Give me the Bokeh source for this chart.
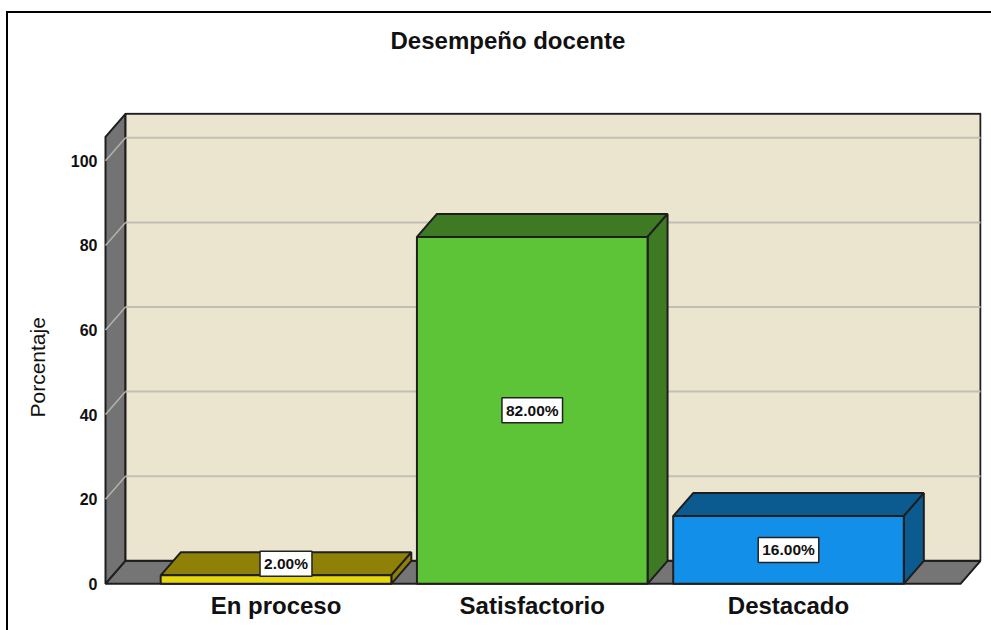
from bokeh.plotting import figure
from bokeh.models import Range1d, FixedTicker, ColumnDataSource, Title
from bokeh.core.properties import value
from bokeh.embed import file_html
from bokeh.resources import INLINE

categories = ["En proceso", "Satisfactorio", "Destacado"]
percentages = [2.0, 82.0, 16.0]
y_ticks = [0, 20, 40, 60, 80, 100]
front_colors = ["#e6d80c", "#5ec437", "#128fe8"]
dark_colors = ["#8f8008", "#3d7a23", "#0b5a90"]
chart_title = "Desempeño docente"
y_title = "Porcentaje"

# 3D projection in data units
DX, DY = 20 / 256.25, 23 / 4.23
WIDTH = 0.9
xpos = [0, 1, 2]
XL, XR = (105 - 275.5) / 256.25, (960 - 275.5) / 256.25
YTOP = (584 - 137) / 4.23
EDGE = "#1e1e1e"

p = figure(frame_width=878, frame_height=474, output_backend="svg", toolbar_location=None,
           x_range=Range1d((103 - 275.5) / 256.25, (981 - 275.5) / 256.25),
           y_range=Range1d(-2.7 / 4.23, 471.3 / 4.23),
           min_border_left=95, min_border_right=10, min_border_top=99, min_border_bottom=44,
           outline_line_color=None, background_fill_color="white", border_fill_color="white")
p.styles = {"position": "absolute", "left": "6px", "top": "11px",
            "border-left": "2px solid #000", "border-top": "2px solid #000"}
p.grid.visible = False

# Walls and floor
p.patch([XL, XL + DX, XL + DX, XL], [0, DY, YTOP + DY, YTOP], fill_color="#737373", line_color=EDGE, line_width=2)
p.patch([XL, XR, XR + DX, XL + DX], [0, 0, DY, DY], fill_color="#757575", line_color=EDGE, line_width=2)
p.patch([XL + DX, XR + DX, XR + DX, XL + DX], [DY, DY, YTOP + DY, YTOP + DY], fill_color="#ebe5d0", line_color=EDGE, line_width=2)

# Gridlines on back and side walls
for t in y_ticks[1:]:
    p.line([XL + DX, XR + DX], [t + DY, t + DY], line_color="#c2beb4", line_width=2)
    p.line([XL, XL + DX], [t, t + DY], line_color="#b4b2ac", line_width=1.5)

# Bars
for x, v, d in zip(xpos, percentages, dark_colors):
    l, r = x - WIDTH / 2, x + WIDTH / 2
    p.patch([l, r, r + DX, l + DX], [v, v, v + DY, v + DY], fill_color=d, line_color=EDGE, line_width=2)
    p.patch([r, r + DX, r + DX, r], [0, DY, v + DY, v], fill_color=d, line_color=EDGE, line_width=2)
p.vbar(x=xpos, top=percentages, bottom=0, width=WIDTH, fill_color=front_colors, line_color=EDGE, line_width=2)

# Value labels: centred on the front, except flat bars which sit mid-depth
lab_x = [x + (DX / 2 if v < 5 else 0) for x, v in zip(xpos, percentages)]
lab_y = [(v + DY / 2) if v < 5 else v / 2 for v in percentages]
src = ColumnDataSource(dict(x=lab_x, y=lab_y, t=[f"{v:.2f}%" for v in percentages]))
p.text("x", "y", text="t", source=src, text_align="center", text_baseline="middle",
       text_font=value("Liberation Sans"), text_font_style="bold", text_font_size="15.5px", text_color="#111111",
       background_fill_color="white", border_line_color="#222222", border_line_width=1.5, padding=4)

# Axes
p.xaxis.ticker = FixedTicker(ticks=xpos)
p.xaxis.major_label_overrides = {x: c for x, c in zip(xpos, categories)}
p.xaxis.axis_line_color = None
p.xaxis.major_tick_line_color = None
p.xaxis.minor_tick_line_color = None
p.xaxis.major_tick_out = 0
p.xaxis.major_tick_in = 0
p.xaxis.major_label_standoff = 5
p.xaxis.major_label_text_font = "Liberation Sans"
p.xaxis.major_label_text_font_style = "bold"
p.xaxis.major_label_text_font_size = "24px"
p.xaxis.major_label_text_color = "#111111"

p.yaxis.ticker = FixedTicker(ticks=y_ticks)
p.yaxis.axis_line_color = None
p.yaxis.major_tick_line_color = None
p.yaxis.minor_tick_line_color = None
p.yaxis.major_tick_out = 0
p.yaxis.major_tick_in = 0
p.yaxis.major_label_standoff = 6
p.yaxis.major_label_text_font = "Liberation Sans"
p.yaxis.major_label_text_font_style = "bold"
p.yaxis.major_label_text_font_size = "16px"
p.yaxis.major_label_text_color = "#111111"

# Blank title keeps the real one clear of the frame
p.title = None
p.add_layout(Title(text=" ", standoff=30, text_font="Liberation Sans", text_font_size="24px"), "above")
p.add_layout(Title(text=chart_title, align="left", offset=287, standoff=0,
                   text_font="Liberation Sans", text_font_style="bold", text_font_size="24px", text_color="#111111"), "above")
p.add_layout(Title(text=y_title, align="left", offset=169, standoff=34, vertical_align="top",
                   text_font="Liberation Sans", text_font_style="normal", text_font_size="21px", text_color="#111111"), "left")

open("out.html", "w").write(file_html(p, INLINE))
